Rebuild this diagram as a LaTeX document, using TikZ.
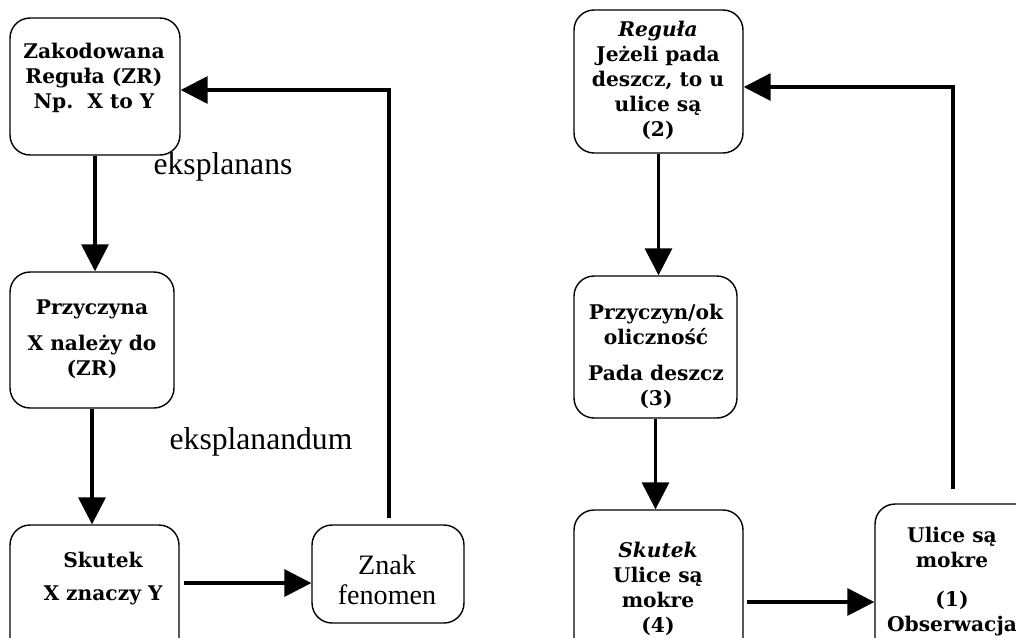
\documentclass[tikz,border=0pt]{standalone}
\usepackage{fontspec}
\setmainfont{DejaVu Serif}
\newfontfamily\notefont{Liberation Serif}
\usetikzlibrary{arrows.meta, positioning, calc}

\begin{document}
\begin{tikzpicture}[x=0.02cm, y=-0.02cm,
        box/.style={draw, rounded corners=0.4cm, line width=0.8pt, inner sep=0pt},
        lbl/.style={align=center, font=\bfseries\fontsize{11.5}{14.2}\selectfont, inner sep=0pt},
        note/.style={align=center, font=\notefont\fontsize{18}{20}\selectfont, inner sep=0pt},
        arr/.style={line width=1.9pt, -{Triangle[length=0.54cm, width=0.54cm]}}]
        \useasboundingbox (0,0) rectangle (1016,637);

        % Left diagram
        \node[box, minimum width=3.4cm, minimum height=2.74cm] (zr) at (95,86.5) {};
        \node[box, minimum width=3.28cm, minimum height=2.72cm] (przL) at (92,340) {};
        \node[box, minimum width=3.38cm, minimum height=3.1cm] (skL) at (94.5,602.5) {};
        \node[box, minimum width=3.04cm, minimum height=1.96cm] (znak) at (388,574) {};

        \node[lbl] (zrT) at (94,78) {Zakodowana\\Reguła (ZR)\\Np.\ \ X to Y};
        \node[lbl] (przLT) at (92,339) {Przyczyna\\[6pt] X należy do\\(ZR)};
        \node[lbl] (skLT) at (103,578.5) {Skutek\\[5pt] X znaczy Y};
        \node[note, font=\notefont\fontsize{16}{17}\selectfont] (znakT) at (387,580) {Znak\\fenomen};
        \node[note] (eksA) at (223,167) {eksplanans};
        \node[note] (eksB) at (261,442) {eksplanandum};

        \draw[arr] (zr.south) -- (zr.south |- przL.north);
        \draw[arr] (przL.south) -- (przL.south |- skL.north);
        \draw[arr] ($(skL.east)+(4,-19.5)$) coordinate (a1) -- (znak.west |- a1);
        \draw[arr] ($(znak.north)+(1,-6)$) |- ($(zr.east)+(0,3.5)$);

        % Right diagram
        \node[box, minimum width=3.38cm, minimum height=2.86cm] (reg) at (658.5,81.5) {};
        \node[box, minimum width=3.26cm, minimum height=2.84cm] (przR) at (655.5,347) {};
        \node[box, minimum width=3.38cm, minimum height=3.4cm] (skR) at (658.5,595) {};
        \node[box, minimum width=3.3cm, minimum height=3.52cm] (ulice) at (957.5,592) {};

        \node[lbl] (regT) at (658,80) {\textit{Reguła}\\Jeżeli pada\\deszcz, to u\\ulice są\\(2)};
        \node[lbl] (przRT) at (656,356.5) {Przyczyn/ok\\oliczność\\[6pt] Pada deszcz\\(3)};
        \node[lbl] (skRT) at (658,589) {\textit{Skutek}\\Ulice są\\mokre\\(4)};
        \node[lbl] (uliceT) at (952,581.5) {Ulice są\\mokre\\[8pt] (1)\\Obserwacja};

        \draw[arr] (reg.south) -- (reg.south |- przR.north);
        \draw[arr] (przR.south) -- (przR.south |- skR.north);
        \draw[arr] ($(skR.east)+(3,7)$) coordinate (a2) -- (ulice.west |- a2);
        \draw[arr] ($(ulice.north)+(-4.5,-14)$) |- ($(reg.east)+(0,5.5)$);
    \end{tikzpicture}
\end{document}
